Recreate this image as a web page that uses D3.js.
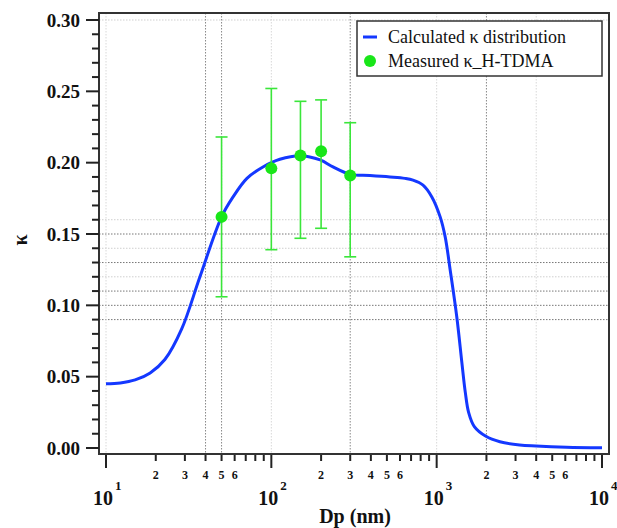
<!DOCTYPE html>
<html>
<head>
<meta charset="utf-8">
<script src="https://cdn.jsdelivr.net/npm/d3@7"></script>
<style>
  html, body { margin: 0; padding: 0; background: #fff; }
  svg { display: block; }
  text { font-family: "Liberation Serif", "Times New Roman", "DejaVu Serif", serif; fill: #111; }
</style>
</head>
<body>
<svg id="chart" width="617" height="528"></svg>
<script>
// ---- data ----
const curveDp    = [10, 12.2, 15, 18.5, 22.7, 28.7, 37, 50, 58.7, 71.2, 89, 112.6, 150, 197.5, 236, 299, 395, 522, 643, 719, 827, 935, 1050, 1126, 1207, 1323, 1420, 1490, 1560, 1690, 1985, 2413, 3175, 4000, 6100, 10000];
const curveKappa = [0.045, 0.0456, 0.0477, 0.0526, 0.062, 0.0835, 0.120, 0.162, 0.176, 0.189, 0.197, 0.2024, 0.2049, 0.2019, 0.197, 0.1918, 0.191, 0.190, 0.189, 0.1878, 0.1843, 0.176, 0.162, 0.148, 0.1248, 0.092, 0.060, 0.039, 0.025, 0.015, 0.0082, 0.0044, 0.0021, 0.0014, 0.0006, 0.0002];

const measDp    = [50, 100, 150, 200, 300];
const measKappa = [0.162, 0.196, 0.205, 0.208, 0.191];
const measUpper = [0.218, 0.252, 0.243, 0.244, 0.228];
const measLower = [0.106, 0.139, 0.147, 0.154, 0.134];

const yTickValues = [0.00, 0.05, 0.10, 0.15, 0.20, 0.25, 0.30];
const yTickLabels = ["0.00", "0.05", "0.10", "0.15", "0.20", "0.25", "0.30"];
const xMajorValues = [10, 100, 1000, 10000];
const xMajorExponents = ["1", "2", "3", "4"];
const xMinorLabelDigits = [2, 3, 4, 5, 6];

const hGridDark  = [0.15, 0.13, 0.11, 0.10, 0.09];
const hGridLight = [0.30, 0.16, 0.14, 0.12];
const vGridDark  = [40, 50, 300, 2000];
const vGridLight = [10, 100, 1000, 4000];

const legendLabels = ["Calculated \u03BA distribution", "Measured \u03BA_H-TDMA"];
const xTitle = "Dp (nm)";
const yTitle = "\u03BA";

// ---- layout ----
const frame = { left: 99, right: 609, top: 13, bottom: 454 };
const svg = d3.select("#chart");

const x = d3.scaleLog().domain([10, 10000]).range([106, 602]);
const y = d3.scaleLinear().domain([0, 0.30]).range([448, 20]);

const blue = "#1438ff";
const green = "#19e619";
const barGreen = "#3ae63a";

// grid
const grid = svg.append("g");
grid.selectAll("line.hl").data(hGridLight).join("line")
  .attr("x1", frame.left).attr("x2", frame.right)
  .attr("y1", d => y(d)).attr("y2", d => y(d))
  .attr("stroke", "#cfcfcf").attr("stroke-width", 1).attr("stroke-dasharray", "1.5,1.5");
grid.selectAll("line.hd").data(hGridDark).join("line")
  .attr("x1", frame.left).attr("x2", frame.right)
  .attr("y1", d => y(d)).attr("y2", d => y(d))
  .attr("stroke", "#777").attr("stroke-width", 1).attr("stroke-dasharray", "1.5,1.5");
grid.selectAll("line.vl").data(vGridLight).join("line")
  .attr("y1", frame.top).attr("y2", frame.bottom)
  .attr("x1", d => x(d)).attr("x2", d => x(d))
  .attr("stroke", "#d8d8d8").attr("stroke-width", 1).attr("stroke-dasharray", "1.5,1.5");
grid.selectAll("line.vd").data(vGridDark).join("line")
  .attr("y1", frame.top).attr("y2", frame.bottom)
  .attr("x1", d => x(d)).attr("x2", d => x(d))
  .attr("stroke", "#888").attr("stroke-width", 1).attr("stroke-dasharray", "1.5,1.5");

// curve
const curveData = curveDp.map((d, i) => [d, curveKappa[i]]);
svg.append("path")
  .datum(curveData)
  .attr("fill", "none")
  .attr("stroke", blue)
  .attr("stroke-width", 3)
  .attr("stroke-linejoin", "round")
  .attr("d", d3.line().x(d => x(d[0])).y(d => y(d[1])).curve(d3.curveCatmullRom.alpha(0.5)));

// error bars
const meas = measDp.map((d, i) => ({ dp: d, k: measKappa[i], hi: measUpper[i], lo: measLower[i] }));
const eb = svg.append("g").attr("stroke", barGreen).attr("stroke-width", 1.6);
eb.selectAll("line.v").data(meas).join("line")
  .attr("x1", d => x(d.dp)).attr("x2", d => x(d.dp))
  .attr("y1", d => y(d.hi)).attr("y2", d => y(d.lo));
eb.selectAll("line.t").data(meas).join("line")
  .attr("x1", d => x(d.dp) - 6).attr("x2", d => x(d.dp) + 6)
  .attr("y1", d => y(d.hi)).attr("y2", d => y(d.hi));
eb.selectAll("line.b").data(meas).join("line")
  .attr("x1", d => x(d.dp) - 6).attr("x2", d => x(d.dp) + 6)
  .attr("y1", d => y(d.lo)).attr("y2", d => y(d.lo));
svg.append("g").selectAll("circle").data(meas).join("circle")
  .attr("cx", d => x(d.dp)).attr("cy", d => y(d.k)).attr("r", 6)
  .attr("fill", green);

// frame
svg.append("rect")
  .attr("x", frame.left).attr("y", frame.top)
  .attr("width", frame.right - frame.left).attr("height", frame.bottom - frame.top)
  .attr("fill", "none").attr("stroke", "#333").attr("stroke-width", 2);

// y axis ticks
const yMinor = d3.range(0, 31).map(i => i / 100);
const yAx = svg.append("g").attr("stroke", "#222").attr("stroke-width", 2);
yAx.selectAll("line").data(yMinor).join("line")
  .attr("x1", frame.left)
  .attr("x2", (d, i) => frame.left - (i % 5 === 0 ? 13 : 7))
  .attr("y1", d => y(d)).attr("y2", d => y(d));
svg.append("g").selectAll("text").data(yTickValues).join("text")
  .attr("x", 80).attr("y", d => y(d))
  .attr("dy", "0.35em")
  .attr("text-anchor", "end")
  .attr("font-size", 19).attr("font-weight", "bold")
  .text((d, i) => yTickLabels[i]);

// x axis ticks
const xTicks = x.ticks();
const isMajor = d => Math.abs(Math.log10(d) - Math.round(Math.log10(d))) < 1e-9;
const mantissa = d => Math.round(d / Math.pow(10, Math.floor(Math.log10(d) + 1e-9)));
const xAx = svg.append("g").attr("stroke", "#222").attr("stroke-width", 2);
xAx.selectAll("line").data(xTicks).join("line")
  .attr("x1", d => x(d)).attr("x2", d => x(d))
  .attr("y1", frame.bottom + 1)
  .attr("y2", d => frame.bottom + (isMajor(d) ? 14 : 7));

const minorLabeled = xTicks.filter(d => !isMajor(d) && xMinorLabelDigits.includes(mantissa(d)));
svg.append("g").selectAll("text").data(minorLabeled).join("text")
  .attr("x", d => x(d)).attr("y", 479)
  .attr("text-anchor", "middle")
  .attr("font-size", 12).attr("font-weight", "bold")
  .text(d => mantissa(d));

const majG = svg.append("g");
xMajorValues.forEach((d, i) => {
  majG.append("text")
    .attr("x", x(d) + 7).attr("y", 505)
    .attr("text-anchor", "end")
    .attr("font-size", 20).attr("font-weight", "bold")
    .text("10");
  majG.append("text")
    .attr("x", x(d) + 9).attr("y", 490)
    .attr("text-anchor", "start")
    .attr("font-size", 13).attr("font-weight", "bold")
    .text(xMajorExponents[i]);
});

// axis titles
svg.append("text")
  .attr("x", 355).attr("y", 523)
  .attr("text-anchor", "middle")
  .attr("font-size", 20).attr("font-weight", "bold")
  .text(xTitle);
svg.append("text")
  .attr("transform", "translate(27,240) rotate(-90)")
  .attr("text-anchor", "middle")
  .attr("font-size", 20).attr("font-weight", "bold")
  .text(yTitle);

// legend
const lg = svg.append("g");
lg.append("rect")
  .attr("x", 357).attr("y", 21).attr("width", 245).attr("height", 55)
  .attr("fill", "#fff").attr("stroke", "#333").attr("stroke-width", 1.5);
lg.append("line")
  .attr("x1", 363).attr("x2", 377).attr("y1", 37).attr("y2", 37)
  .attr("stroke", blue).attr("stroke-width", 3);
lg.append("circle").attr("cx", 370).attr("cy", 61).attr("r", 6).attr("fill", green);
lg.selectAll("text").data(legendLabels).join("text")
  .attr("x", 388).attr("y", (d, i) => 43 + i * 24)
  .attr("font-size", 18)
  .text(d => d);
</script>
</body>
</html>
